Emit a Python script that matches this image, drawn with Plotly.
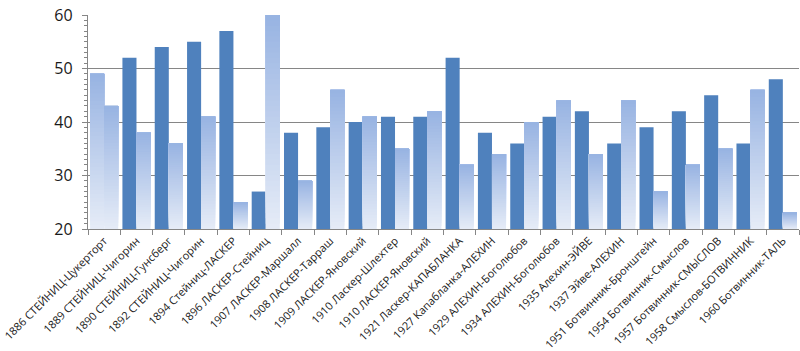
import plotly.graph_objects as go

categories = [
    "1886 СТЕЙНИЦ-Цукерторт", "1889 СТЕЙНИЦ-Чигорин", "1890 СТЕЙНИЦ-Гунсберг",
    "1892 СТЕЙНИЦ-Чигорин", "1894 Стейниц-ЛАСКЕР", "1896 ЛАСКЕР-Стейниц",
    "1907 ЛАСКЕР-Маршалл", "1908 ЛАСКЕР-Тарраш", "1909 ЛАСКЕР-Яновский",
    "1910 Ласкер-Шлехтер", "1910 ЛАСКЕР-Яновский", "1921 Ласкер-КАПАБЛАНКА",
    "1927 Капабланка-АЛЕХИН", "1929 АЛЕХИН-Боголюбов", "1934 АЛЕХИН-Боголюбов",
    "1935 Алехин-ЭЙВЕ", "1937 Эйве-АЛЕХИН", "1951 Ботвинник-Бронштейн",
    "1954 Ботвинник-Смыслов", "1957 Ботвинник-СМЫСЛОВ", "1958 Смыслов-БОТВИННИК",
    "1960 Ботвинник-ТАЛЬ",
]
series_a = [49, 52, 54, 55, 57, 27, 38, 39, 40, 41, 41, 52, 38, 36, 41, 42, 36, 39, 42, 45, 36, 48]
series_b = [43, 38, 36, 41, 25, 60, 29, 46, 41, 35, 42, 32, 34, 40, 44, 34, 44, 27, 32, 35, 46, 23]
# which points use the gradient fill (first point of series A is formatted like series B)
gradient_a = [True] + [False] * (len(categories) - 1)
gradient_b = [True] * len(categories)

Y_MIN, Y_MAX = 20, 60
SOLID = "#4F81BD"
GRAD_BOTTOM = (230, 236, 247)
GRAD_TOP = (151, 179, 226)
K = 40

fig = go.Figure()


def mix(t):
    r, g, b = (round(GRAD_BOTTOM[i] + (GRAD_TOP[i] - GRAD_BOTTOM[i]) * t) for i in range(3))
    return f"rgb({r},{g},{b})"


def add_series(values, grad_mask, group):
    solid_y = [None if g else v - Y_MIN for v, g in zip(values, grad_mask)]
    if any(v is not None for v in solid_y):
        fig.add_trace(go.Bar(
            x=categories, y=solid_y, base=[Y_MIN] * len(values), offsetgroup=group,
            marker=dict(color=SOLID, line=dict(width=0)), showlegend=False,
        ))
    # overlapping layers: each layer runs from its start up to the bar top,
    # later layers paint over earlier ones -> seamless vertical gradient
    for k in range(K):
        ys, bases = [], []
        for v, g in zip(values, grad_mask):
            if g:
                h = (v - Y_MIN) / K
                ys.append((v - Y_MIN) - h * k)
                bases.append(Y_MIN + h * k)
            else:
                ys.append(None)
                bases.append(Y_MIN)
        fig.add_trace(go.Bar(
            x=categories, y=ys, base=bases, offsetgroup=group,
            marker=dict(color=mix((k + 0.5) / K), line=dict(width=0)), showlegend=False,
        ))


add_series(series_a, gradient_a, "a")
add_series(series_b, gradient_b, "b")

fig.update_layout(
    width=800, height=351,
    margin=dict(l=88, r=1, t=15, b=122),
    paper_bgcolor="white", plot_bgcolor="white",
    barmode="group", bargap=0.13, bargroupgap=0,
    showlegend=False,
    font=dict(family="Open Sans", color="#1a1a1a"),
)
fig.update_xaxes(
    type="category", tickangle=-45, tickfont=dict(size=11),
    showline=True, linecolor="#868686", linewidth=1.3,
    ticks="outside", tickson="boundaries", ticklen=5, tickcolor="#868686",
    showgrid=False,
)
fig.update_yaxes(
    range=[Y_MIN, Y_MAX], dtick=10, tick0=20, tickfont=dict(size=16),
    showline=True, linecolor="#868686", linewidth=1.3,
    ticks="outside", ticklen=5, tickcolor="#868686", ticklabelstandoff=6,
    showgrid=True, gridcolor="#868686", gridwidth=1.3,
    minor=dict(dtick=1, ticks="outside", ticklen=3, tickcolor="#868686", showgrid=False),
    zeroline=False,
)

fig.write_html("out.html")
